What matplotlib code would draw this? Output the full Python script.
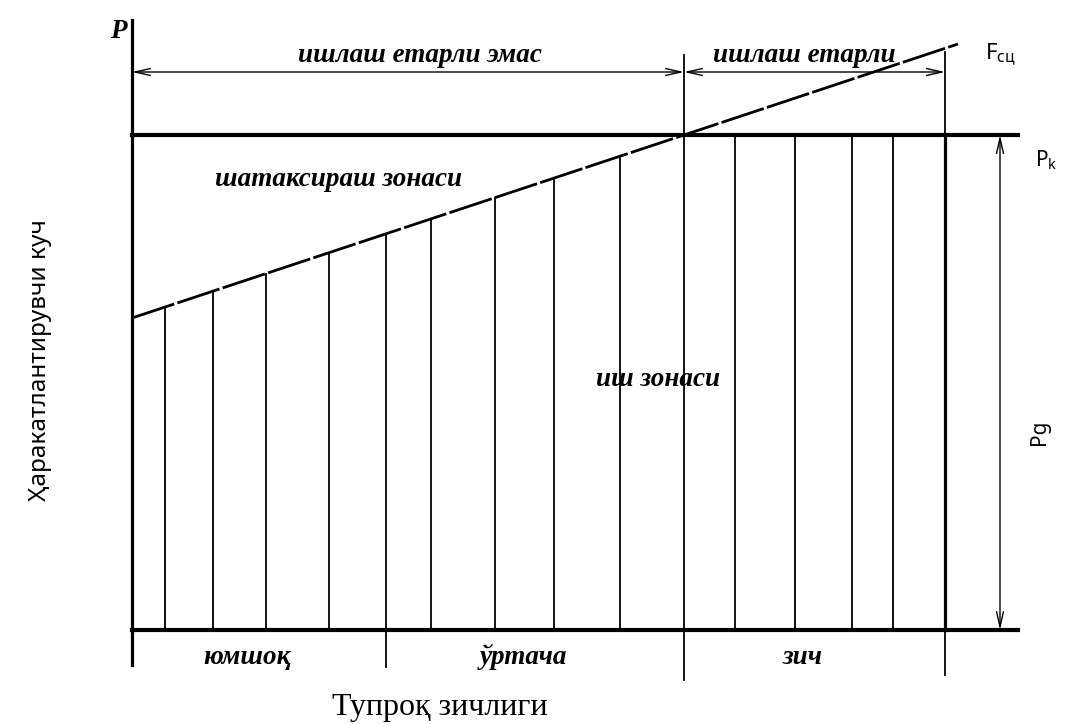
import matplotlib
matplotlib.use("Agg")
import matplotlib.pyplot as plt
import numpy as np

# Schematic: soil density (x) vs traction force (y), arbitrary units
zone_edges = [0, 254, 552, 813]            # soft | medium | dense
zone_names = ["юмшоқ", "ўртача", "зич"]
hatch_x = np.array([33, 81, 134, 197, 254, 299, 363, 422, 488, 552,
                    603, 663, 720, 761, 813])
P_k = 495                                   # rated traction force
F_sc_x = np.array([0, 552, 826])            # adhesion force line
F_sc_y = np.array([312, 495, 586])

serif = ["Liberation Serif", "DejaVu Serif"]
sans = ["Noto Sans", "DejaVu Sans"]

fig = plt.figure(figsize=(10.77, 7.24), dpi=100)
ax = fig.add_axes([0, 0, 1, 1])
ax.set_xlim(-132, 945)
ax.set_ylim(-94, 630)
ax.axis("off")

x_end = 886
# axes and frame
ax.plot([0, 0], [-35, 610], color="black", lw=2.3)
ax.plot([0, x_end], [0, 0], color="black", lw=3.0)
ax.plot([0, x_end], [P_k, P_k], color="black", lw=3.0)
ax.plot([zone_edges[-1]] * 2, [0, P_k], color="black", lw=2.3)

# hatch lines under the adhesion line / P_k
f_at = np.interp(hatch_x, F_sc_x, F_sc_y)
tops = np.minimum(f_at, P_k)
for x, t in zip(hatch_x, tops):
    ax.plot([x, x], [0, t], color="black", lw=1.3)

# zone dividers below the base line and extension lines above P_k
ax.plot([zone_edges[1]] * 2, [0, -37], color="black", lw=1.3)
ax.plot([zone_edges[2]] * 2, [0, -50], color="black", lw=1.3)
ax.plot([zone_edges[3]] * 2, [0, -45], color="black", lw=1.3)
ax.plot([zone_edges[2]] * 2, [P_k, 575], color="black", lw=1.3)
ax.plot([zone_edges[3]] * 2, [P_k, 578], color="black", lw=1.3)

# adhesion force line
ax.plot(F_sc_x, F_sc_y, color="black", lw=2.0, linestyle=(0, (16, 1.2)))

# dimension arrows
arr = dict(arrowstyle="<->,head_length=1.1,head_width=0.25", color="black",
           lw=1.0, shrinkA=0, shrinkB=0)
dim_y = 558
ax.annotate("", xy=(zone_edges[0], dim_y), xytext=(zone_edges[2], dim_y), arrowprops=arr)
ax.annotate("", xy=(zone_edges[2], dim_y), xytext=(zone_edges[3], dim_y), arrowprops=arr)
ax.annotate("", xy=(868, 0), xytext=(868, P_k), arrowprops=arr)

# labels
bi = dict(family=serif, fontweight="bold", fontstyle="italic", fontsize=19.5,
          ha="center", va="center")
ax.text(-14, 598, "P", **bi)
ax.text(288, 574, "ишлаш етарли эмас", **bi)
ax.text(672, 574, "ишлаш етарли", **bi)
ax.text(207, 450, "шатаксираш зонаси", **bi)
ax.text(526, 250, "иш зонаси", **bi)
for (a, b), name in zip(zip(zone_edges[:-1], zone_edges[1:]), zone_names):
    ax.text((a + b) / 2 - 12, -27, name, **bi)

ax.text(308, -78, "Тупроқ зичлиги", family=serif, fontsize=23, ha="center", va="center")
ax.text(-92, 270, "Ҳаракатлантирувчи куч", family=sans, fontsize=17.5,
        rotation=90, ha="center", va="center")
ax.text(853, 575, "F$_{\\mathregular{сц}}$", family=sans, fontsize=16, ha="left", va="center")
ax.text(903, 470, "P$_{\\mathregular{k}}$", family=sans, fontsize=15, ha="left", va="center")
ax.text(908, 198, "Pg", family=sans, fontsize=15, rotation=90, ha="center", va="center")

fig.savefig("out.png", dpi=100)
